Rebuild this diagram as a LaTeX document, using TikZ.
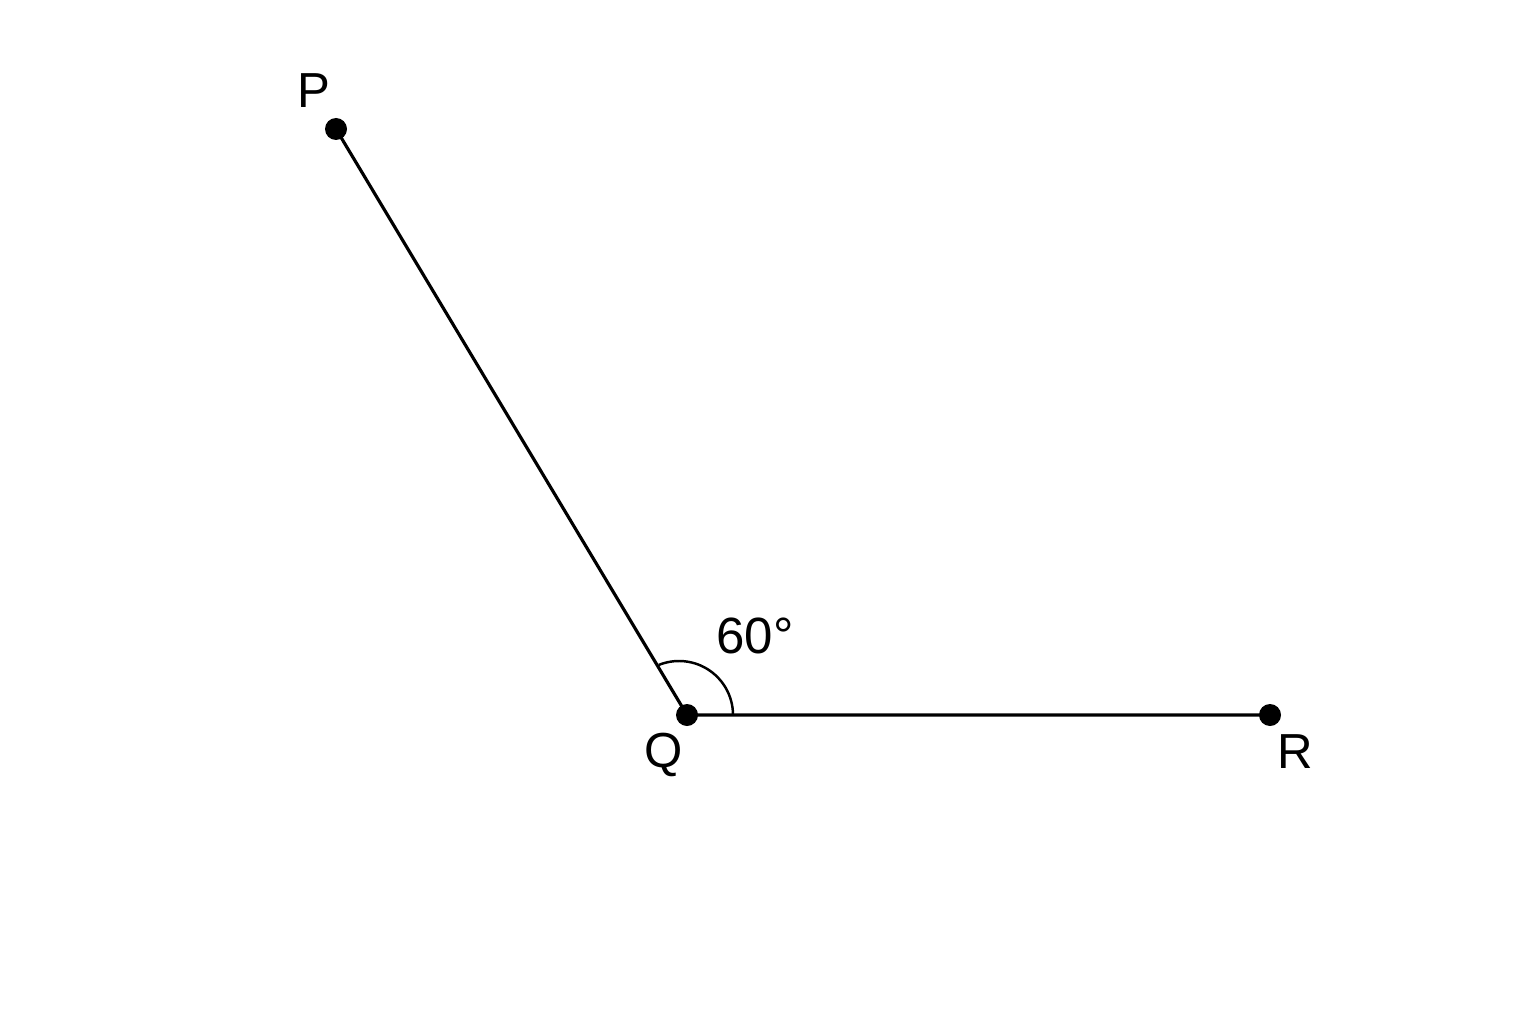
\documentclass[tikz,border=0pt]{standalone}
\usepackage{fontspec}
\setmainfont{Liberation Sans}
\usetikzlibrary{calc,positioning}
\tikzset{%
  pt/.style={circle, fill=black, inner sep=0pt, minimum size=0.22cm},%
  lbl/.style={anchor=base, inner sep=0pt, font=\fontsize{14}{17}\selectfont},%
  seg/.style={line width=0.9pt}%
}

\begin{document}
\begin{tikzpicture}
  \useasboundingbox (0,0) rectangle (15.36,10.24);%
  \def\rarc{0.54}%

  % Points
  \node[pt] (P) at (3.36,8.95) {};%
  \node[pt] (Q) at (6.87,3.09) {};%
  \node[pt] (R) at (12.70,3.09) {};%

  % Nodes
  \node[lbl] (Plbl) at (3.14,9.16) {P};%
  \node[lbl] (Qlbl) at (6.64,2.57) {Q};%
  \node[lbl] (Rlbl) at (12.95,2.56) {R};%
  \node[lbl, font=\fontsize{14.5}{17}\selectfont] (ang) at (7.55,3.71) {60°};%

  % Lines
  \draw[seg] (P.center) -- (Q.center) -- (R.center);%

  % Angle mark
  \coordinate (A1) at ($(Q.center)+(0.46,0)$);%
  \draw[line width=0.7pt] (A1) arc[start angle=0, end angle=112, radius=\rarc];%
\end{tikzpicture}
\end{document}
